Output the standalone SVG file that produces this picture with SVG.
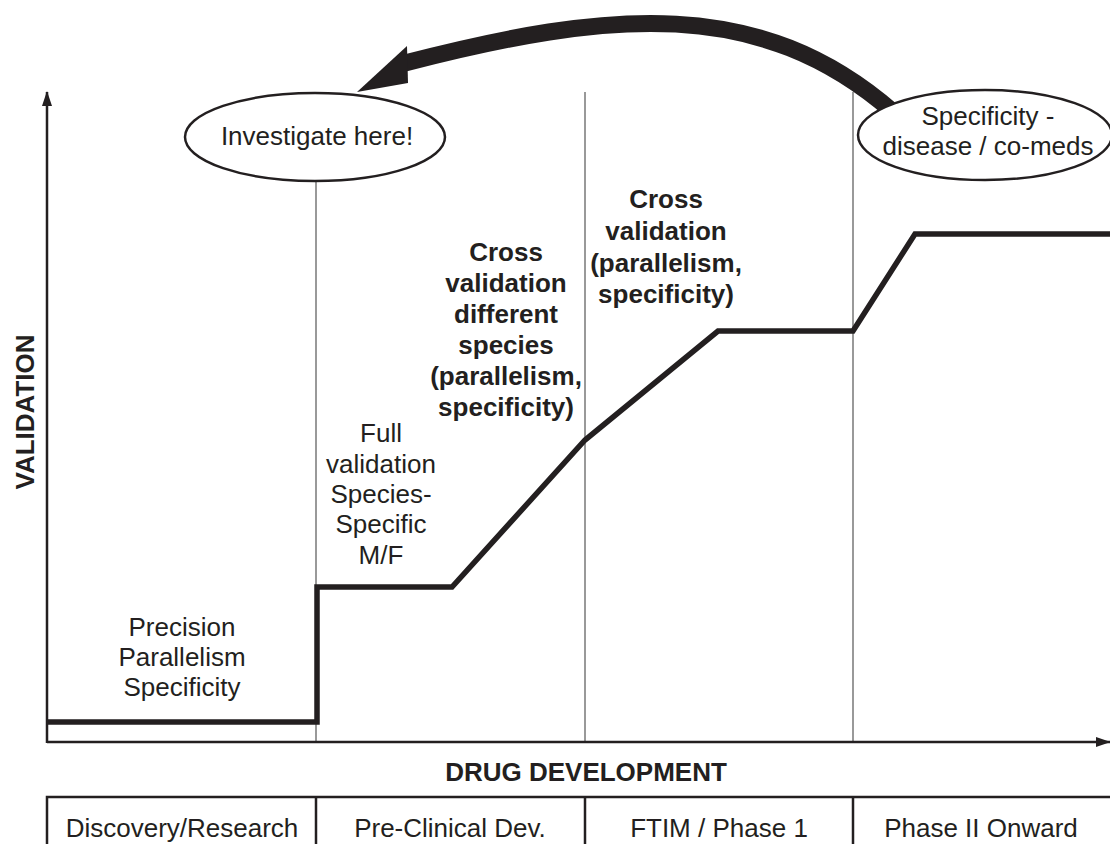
<svg xmlns="http://www.w3.org/2000/svg" width="1110" height="844" viewBox="0 0 1110 844">
<style>
  text { font-family: "Liberation Sans", Arial, sans-serif; fill: #231f20; }
  .t { font-size: 26px; text-anchor: middle; }
  .b { font-size: 26px; font-weight: bold; text-anchor: middle; }
  .axis { stroke: #231f20; stroke-width: 2.5; fill: none; }
  .div { stroke: #555; stroke-width: 1.2; fill: none; }
  .curve { stroke: #231f20; stroke-width: 5.5; fill: none; stroke-linejoin: miter; }
  .oval { fill: #fff; stroke: #231f20; stroke-width: 2.5; }
</style>
<defs>
  <marker id="ah" markerWidth="16" markerHeight="12" refX="14" refY="6" orient="auto" markerUnits="userSpaceOnUse">
    <path d="M0,1 L15,6 L0,11 z" fill="#231f20"/>
  </marker>
</defs>
<rect width="1110" height="844" fill="#fff"/>

<g id="dividers">
  <line class="div" x1="316" y1="180" x2="316" y2="742"/>
  <line class="div" x1="585" y1="92" x2="585" y2="742"/>
  <line class="div" x1="853" y1="92" x2="853" y2="742"/>
</g>

<g id="axes">
  <line class="axis" x1="47" y1="743" x2="47" y2="92" marker-end="url(#ah)"/>
  <line class="axis" x1="47" y1="742" x2="1110" y2="742" marker-end="url(#ah)"/>
  <text class="b" transform="translate(34,412) rotate(-90)">VALIDATION</text>
  <text class="b" x="586" y="781">DRUG DEVELOPMENT</text>
</g>

<g id="validation-curve">
  <polyline class="curve" points="47,722 317,722 317,587 452,587 585,440 718,331 853,331 915,234 1110,234"/>
</g>

<g id="connectors">
  <path d="M893,112 C760,-4 610,10 405,63" fill="none" stroke="#231f20" stroke-width="17"/>
  <polygon points="357,92 407,46 408,83" fill="#231f20"/>
</g>

<g id="node-investigate">
  <ellipse class="oval" cx="315" cy="137" rx="130" ry="44"/>
  <text class="t" x="317" y="145">Investigate here!</text>
</g>

<g id="node-specificity">
  <ellipse class="oval" cx="985" cy="135" rx="127" ry="45"/>
  <text class="t" x="988" y="125">Specificity -</text>
  <text class="t" x="988" y="155">disease / co-meds</text>
</g>

<g id="label-discovery">
  <text class="t" x="182" y="636">Precision</text>
  <text class="t" x="182" y="666">Parallelism</text>
  <text class="t" x="182" y="696">Specificity</text>
</g>

<g id="label-preclinical">
  <text class="t" x="381" y="442">Full</text>
  <text class="t" x="381" y="473">validation</text>
  <text class="t" x="381" y="503">Species-</text>
  <text class="t" x="381" y="533">Specific</text>
  <text class="t" x="381" y="564">M/F</text>
</g>

<g id="label-cross-species">
  <text class="b" x="506" y="261">Cross</text>
  <text class="b" x="506" y="292">validation</text>
  <text class="b" x="506" y="323">different</text>
  <text class="b" x="506" y="354">species</text>
  <text class="b" x="506" y="385">(parallelism,</text>
  <text class="b" x="506" y="416">specificity)</text>
</g>

<g id="label-cross">
  <text class="b" x="666" y="208">Cross</text>
  <text class="b" x="666" y="240">validation</text>
  <text class="b" x="666" y="272">(parallelism,</text>
  <text class="b" x="666" y="303">specificity)</text>
</g>

<g id="phase-table">
  <polyline class="axis" points="47,850 47,797 1110,797"/>
  <line class="axis" x1="316" y1="797" x2="316" y2="850"/>
  <line class="axis" x1="585" y1="797" x2="585" y2="850"/>
  <line class="axis" x1="853" y1="797" x2="853" y2="850"/>
  <text class="t" x="182" y="837">Discovery/Research</text>
  <text class="t" x="450" y="837">Pre-Clinical Dev.</text>
  <text class="t" x="719" y="837">FTIM / Phase 1</text>
  <text class="t" x="981" y="837">Phase II Onward</text>
</g>
</svg>
